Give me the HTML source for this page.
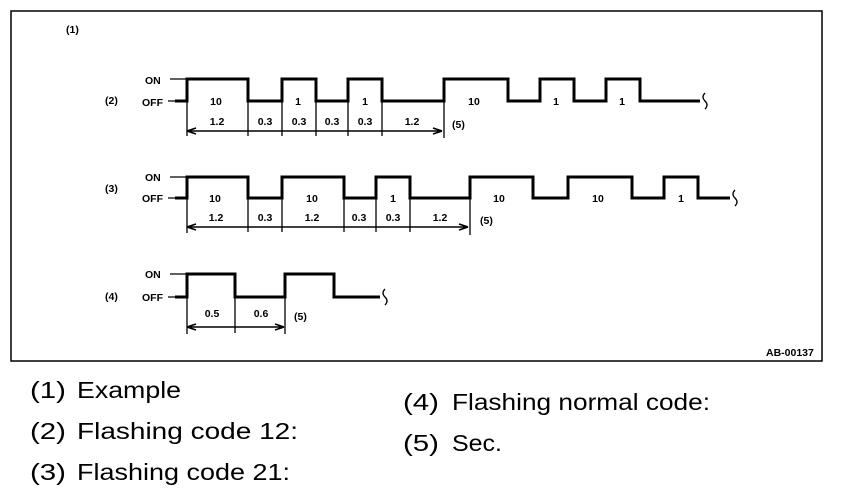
<!DOCTYPE html>
<html><head><meta charset="utf-8"><style>
html,body{margin:0;padding:0;background:#fff;}
svg{display:block;}
.s{font-family:"Liberation Sans",Arial,sans-serif;font-weight:bold;font-size:10.5px;fill:#000;}
.b{font-family:"Liberation Sans",Arial,sans-serif;font-size:23px;fill:#000;}
.w{fill:none;stroke:#000;stroke-width:3;}
.t{fill:none;stroke:#000;stroke-width:1.3;}
.d{fill:none;stroke:#000;stroke-width:1.6;}
</style></head><body>
<svg width="864" height="504" viewBox="0 0 864 504" xmlns="http://www.w3.org/2000/svg">
<rect x="11" y="11" width="811" height="350" fill="none" stroke="#000" stroke-width="1.5"/>
<text class="s" x="66" y="33" font-size="9">(1)</text>
<text class="s" x="766" y="356" font-size="9.5">AB-00137</text>

<!-- Row 2 -->
<text class="s" x="105" y="104">(2)</text>
<text class="s" x="145" y="84">ON</text>
<text class="s" x="142" y="106">OFF</text>
<path class="t" d="M170 79H187M168 101H187"/>
<path class="w" d="M175 101H187V79H248V101H282V79H316V101H348V79H382V101H444V79H508V101H540V79H574V101H606V79H640V101H700"/>
<path class="t" d="M705 93q-4 4 0 8q4 4 0 8"/>
<path class="t" d="M187 101V136M444 101V138"/>
<path class="t" d="M248 101V136M282 101V136M316 101V136M348 101V136M382 101V136"/>
<path class="d" d="M187 131H442M187 131l9-3M187 131l9 3M442 131l-9-3M442 131l-9 3"/>
<g class="s" text-anchor="middle">
<text x="216" y="105">10</text><text x="298" y="105">1</text><text x="365" y="105">1</text>
<text x="474" y="105">10</text><text x="556" y="105">1</text><text x="622" y="105">1</text>
<text x="217" y="125">1.2</text><text x="265" y="125">0.3</text><text x="299" y="125">0.3</text>
<text x="332" y="125">0.3</text><text x="365" y="125">0.3</text><text x="412" y="125">1.2</text>
</g>
<text class="s" x="452" y="128">(5)</text>

<!-- Row 3 -->
<text class="s" x="105" y="192">(3)</text>
<text class="s" x="145" y="181">ON</text>
<text class="s" x="142" y="202">OFF</text>
<path class="t" d="M170 177H187M168 198H187"/>
<path class="w" d="M175 198H187V177H248V198H282V177H344V198H376V177H410V198H470V177H533V198H568V177H632V198H664V177H698V198H730"/>
<path class="t" d="M735 190q-4 4 0 8q4 4 0 8"/>
<path class="t" d="M187 198V233M470 198V235M248 198V232M282 198V232M344 198V232M376 198V232M410 198V232"/>
<path class="d" d="M187 227H468M187 227l9-3M187 227l9 3M468 227l-9-3M468 227l-9 3"/>
<g class="s" text-anchor="middle">
<text x="215" y="202">10</text><text x="312" y="202">10</text><text x="393" y="202">1</text>
<text x="499" y="202">10</text><text x="598" y="202">10</text><text x="681" y="202">1</text>
<text x="216" y="221">1.2</text><text x="265" y="221">0.3</text><text x="312" y="221">1.2</text>
<text x="359" y="221">0.3</text><text x="393" y="221">0.3</text><text x="440" y="221">1.2</text>
</g>
<text class="s" x="480" y="224">(5)</text>

<!-- Row 4 -->
<text class="s" x="105" y="300">(4)</text>
<text class="s" x="145" y="278">ON</text>
<text class="s" x="142" y="301">OFF</text>
<path class="t" d="M170 274H187M168 297H187"/>
<path class="w" d="M175 297H187V274H235V297H285V274H334V297H380"/>
<path class="t" d="M385 289q-4 4 0 8q4 4 0 8"/>
<path class="t" d="M187 297V334M235 297V333M285 297V334"/>
<path class="d" d="M187 327H284M187 327l9-3M187 327l9 3M284 327l-9-3M284 327l-9 3"/>
<g class="s" text-anchor="middle">
<text x="212" y="317">0.5</text><text x="261" y="317">0.6</text>
</g>
<text class="s" x="294" y="320">(5)</text>

<!-- Legend -->
<text class="b" x="30" y="398" textLength="36" lengthAdjust="spacingAndGlyphs">(1)</text><text class="b" x="77" y="398" textLength="104" lengthAdjust="spacingAndGlyphs">Example</text>
<text class="b" x="30" y="439" textLength="36" lengthAdjust="spacingAndGlyphs">(2)</text><text class="b" x="77" y="439" textLength="221" lengthAdjust="spacingAndGlyphs">Flashing code 12:</text>
<text class="b" x="30" y="480" textLength="36" lengthAdjust="spacingAndGlyphs">(3)</text><text class="b" x="77" y="480" textLength="213" lengthAdjust="spacingAndGlyphs">Flashing code 21:</text>
<text class="b" x="403" y="410" textLength="36" lengthAdjust="spacingAndGlyphs">(4)</text><text class="b" x="452" y="410" textLength="258" lengthAdjust="spacingAndGlyphs">Flashing normal code:</text>
<text class="b" x="403" y="451" textLength="36" lengthAdjust="spacingAndGlyphs">(5)</text><text class="b" x="452" y="451" textLength="50" lengthAdjust="spacingAndGlyphs">Sec.</text>
</svg>
</body></html>
